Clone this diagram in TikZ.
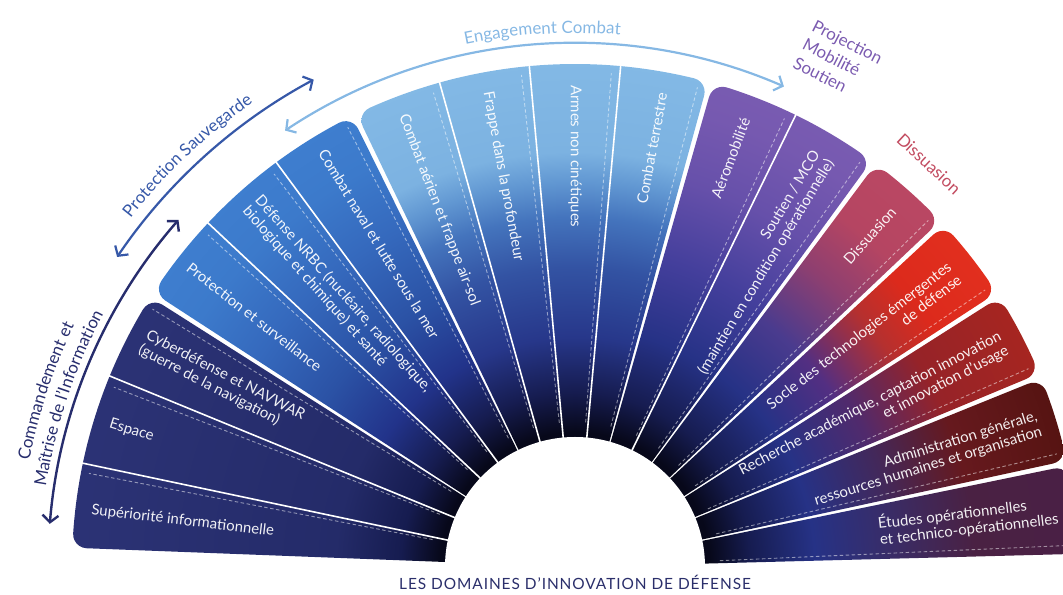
\documentclass[tikz,border=0pt]{standalone}
\usepackage{fontspec}
\setmainfont{Lato}
\usetikzlibrary{calc,arrows.meta,decorations.text}

\definecolor{cBlk}{HTML}{07081A}
\definecolor{cNv1}{HTML}{161C50}
\definecolor{cNv2}{HTML}{263286}
\definecolor{cmdB}{HTML}{242B69}
\definecolor{cmdC}{HTML}{2C3376}
\definecolor{prB}{HTML}{22338A}
\definecolor{prC}{HTML}{2B52A5}
\definecolor{prD}{HTML}{3569BD}
\definecolor{prE}{HTML}{3C7ACB}
\definecolor{prF}{HTML}{3F7FD0}
\definecolor{enB}{HTML}{27378A}
\definecolor{enC}{HTML}{3353A3}
\definecolor{enD}{HTML}{4474BD}
\definecolor{enE}{HTML}{6197D2}
\definecolor{enF}{HTML}{7CB2E1}
\definecolor{enG}{HTML}{84BAE6}
\definecolor{pjC}{HTML}{443F9C}
\definecolor{pjD}{HTML}{6650AA}
\definecolor{pjE}{HTML}{7659B0}
\definecolor{pjF}{HTML}{7A5CB2}
\definecolor{dsC}{HTML}{4A3B8E}
\definecolor{dsD}{HTML}{8E3F70}
\definecolor{dsE}{HTML}{B54562}
\definecolor{dsF}{HTML}{BB4863}
\definecolor{soC}{HTML}{532F82}
\definecolor{soD}{HTML}{B5302F}
\definecolor{soE}{HTML}{DC2A1C}
\definecolor{soF}{HTML}{E3301F}
\definecolor{reC}{HTML}{512A6C}
\definecolor{reD}{HTML}{962328}
\definecolor{reE}{HTML}{A9261F}
\definecolor{adC}{HTML}{43285A}
\definecolor{adD}{HTML}{66191E}
\definecolor{adE}{HTML}{541310}
\definecolor{etC}{HTML}{3A2C66}
\definecolor{etD}{HTML}{4A2143}
\definecolor{etE}{HTML}{4A2046}
\definecolor{cmdTxt}{HTML}{272D6D}
\definecolor{protTxt}{HTML}{3658A8}
\definecolor{engTxt}{HTML}{86B8E4}
\definecolor{projTxt}{HTML}{7B5BB0}
\definecolor{dissTxt}{HTML}{C24B60}
\definecolor{titleTxt}{HTML}{2B2F6B}

\pgfdeclareradialshading{shCmd}{\pgfpoint{0bp}{0bp}}{color(0bp)=(cBlk); color(135bp)=(cBlk); color(175bp)=(cNv1); color(240bp)=(cmdB); color(520bp)=(cmdC)}
\pgfdeclareradialshading{shPro}{\pgfpoint{0bp}{0bp}}{color(0bp)=(cBlk); color(135bp)=(cBlk); color(175bp)=(cNv1); color(230bp)=(prB); color(300bp)=(prC); color(380bp)=(prD); color(450bp)=(prE); color(520bp)=(prF)}
\pgfdeclareradialshading{shEng}{\pgfpoint{0bp}{0bp}}{color(0bp)=(cBlk); color(135bp)=(cBlk); color(175bp)=(cNv1); color(230bp)=(enB); color(300bp)=(enC); color(350bp)=(enD); color(385bp)=(enE); color(415bp)=(enF); color(520bp)=(enG)}
\pgfdeclareradialshading{shPrj}{\pgfpoint{0bp}{0bp}}{color(0bp)=(cBlk); color(135bp)=(cBlk); color(175bp)=(cNv1); color(240bp)=(cNv2); color(320bp)=(pjC); color(400bp)=(pjD); color(470bp)=(pjE); color(520bp)=(pjF)}
\pgfdeclareradialshading{shDis}{\pgfpoint{0bp}{0bp}}{color(0bp)=(cBlk); color(135bp)=(cBlk); color(175bp)=(cNv1); color(240bp)=(cNv2); color(310bp)=(dsC); color(380bp)=(dsD); color(440bp)=(dsE); color(520bp)=(dsF)}
\pgfdeclareradialshading{shSoc}{\pgfpoint{0bp}{0bp}}{color(0bp)=(cBlk); color(135bp)=(cBlk); color(175bp)=(cNv1); color(240bp)=(cNv2); color(310bp)=(soC); color(380bp)=(soD); color(430bp)=(soE); color(520bp)=(soF)}
\pgfdeclareradialshading{shRec}{\pgfpoint{0bp}{0bp}}{color(0bp)=(cBlk); color(135bp)=(cBlk); color(175bp)=(cNv1); color(240bp)=(cNv2); color(320bp)=(reC); color(400bp)=(reD); color(520bp)=(reE)}
\pgfdeclareradialshading{shAdm}{\pgfpoint{0bp}{0bp}}{color(0bp)=(cBlk); color(135bp)=(cBlk); color(175bp)=(cNv1); color(240bp)=(cNv2); color(320bp)=(adC); color(400bp)=(adD); color(520bp)=(adE)}
\pgfdeclareradialshading{shEtu}{\pgfpoint{0bp}{0bp}}{color(0bp)=(cBlk); color(135bp)=(cBlk); color(175bp)=(cNv1); color(240bp)=(cNv2); color(320bp)=(etC); color(400bp)=(etD); color(520bp)=(etE)}

\newcommand\segfont{\fontsize{15}{16.5}\selectfont}
\newcommand\grpfont{\fontsize{17}{21}\selectfont}
\newcommand\ttlfont{\addfontfeatures{LetterSpace=6}\fontsize{15.5}{18}\selectfont}

% group clip: #1 lower angle, #2 upper angle
\newcommand\grpclip[2]{\clip ($(C)+(#1:60)$) -- ($(C)+(#1:488.8)$)
  arc[start angle=#1-90, end angle=#1+1.64, radius=14]
  arc[start angle=#1+1.64, end angle=#2-1.64, radius=503]
  arc[start angle=#2-1.64, end angle=#2+90, radius=14]
  -- ($(C)+(#2:60)$) -- cycle;}
\newcommand\grpfill[4]{\begin{scope}\grpclip{#1}{#2}
  \node[inner sep=0pt, outer sep=0pt] (#4) at (C) {\pgfuseshading{#3}};
  \end{scope}}

\begin{document}
\begin{tikzpicture}[x=1bp,y=1bp,
  seg/.style={text=white, text opacity=.93, font=\segfont, inner sep=0pt, align=left},
  sepline/.style={white, line width=1.6bp},
  dashline/.style={white, opacity=.5, line width=.9bp, dash pattern=on 3.5bp off 2.5bp},
  arrtip/.style={{Straight Barb[length=7bp,width=16bp]}-{Straight Barb[length=7bp,width=16bp]}},
  grplbl/.style={font=\grpfont, inner sep=0pt}]
\useasboundingbox (0,0) rectangle (1063,595);
\coordinate (C) at (575,28);

% groups
\grpfill{147.56}{177.8}{shCmd}{gCmd}
\grpfill{116.33}{146.96}{shPro}{gPro}
\grpfill{74.68}{115.73}{shEng}{gEng}
\grpfill{53.86}{74.08}{shPrj}{gPrj}
\grpfill{43.45}{53.26}{shDis}{gDis}
\grpfill{33.04}{42.85}{shSoc}{gSoc}
\grpfill{22.62}{32.44}{shRec}{gRec}
\grpfill{12.21}{22.02}{shAdm}{gAdm}
\grpfill{1.5}{11.61}{shEtu}{gEtu}

% separators inside groups
\foreach \a in {168.09,157.68,136.85,126.44,105.62,95.21,84.79,63.97}
  \draw[sepline] ($(C)+(\a:100)$) -- ($(C)+(\a:510)$);
% dashed lines
\foreach \a in {169.1,158.7,148.6,137.85,127.44,117.33,106.62,96.21,85.79,75.68,64.97,54.86,44.45,34.04,23.62,13.21,2.5}
  \draw[dashline] ($(C)+(\a:145)$) -- ($(C)+(\a:495)$);

% inner white half disc
\fill[white] (C) circle (130);

% segment labels
\node[seg, anchor=west, rotate=-6.71] (t0) at ($(C)+(173.29:487)$) {Supériorité informationnelle};
\node[seg, anchor=west, rotate=-17.12] (t1) at ($(C)+(162.88:487)$) {Espace};
\node[seg, anchor=west, rotate=-27.53] (t2) at ($(C)+(152.47:487)$) {Cyberdéfense et NAVWAR\\(guerre de la navigation)};
\node[seg, anchor=west, rotate=-37.94] (t3) at ($(C)+(142.06:490)$) {Protection et surveillance};
\node[seg, anchor=west, rotate=-48.35] (t4) at ($(C)+(131.65:487)$) {Défense NRBC (nucléaire, radiologique,\\biologique et chimique) et santé};
\node[seg, anchor=west, rotate=-58.76] (t5) at ($(C)+(121.24:487)$) {Combat naval et lutte sous la mer};
\node[seg, anchor=west, rotate=-69.18] (t6) at ($(C)+(110.82:484)$) {Combat aérien et frappe air-sol};
\node[seg, anchor=west, rotate=-79.59] (t7) at ($(C)+(100.41:483)$) {Frappe dans la profondeur};
\node[seg, anchor=west, rotate=-90] (t8) at ($(C)+(90:482)$) {Armes non cinétiques};
\node[seg, anchor=east, rotate=79.59] (t9) at ($(C)+(79.59:482)$) {Combat terrestre};
\node[seg, anchor=east, rotate=69.18] (t10) at ($(C)+(69.18:480)$) {Aéromobilité};
\node[seg, anchor=east, align=right, rotate=58.76] (t11) at ($(C)+(58.76:480)$) {Soutien / MCO\\(maintien en condition opérationnelle)};
\node[seg, anchor=east, rotate=48.35] (t12) at ($(C)+(48.35:479)$) {Dissuasion};
\node[seg, anchor=east, align=right, rotate=37.94] (t13) at ($(C)+(37.94:481)$) {Socle des technologies émergentes\\de défense};
\node[seg, anchor=east, align=right, rotate=27.53] (t14) at ($(C)+(27.53:484)$) {Recherche académique, captation innovation\\et innovation d’usage};
\node[seg, anchor=east, align=right, rotate=17.12] (t15) at ($(C)+(17.12:486)$) {Administration générale,\\ressources humaines et organisation};
\node[seg, anchor=east, align=left, rotate=6.71] (t16) at ($(C)+(6.71:486)$) {Études opérationnelles\\et technico-opérationnelles};

% arrows
\coordinate (cmdS) at ($(C)+(175.3:527)$);
\draw[arrtip, draw=cmdTxt, line width=2.4bp] (cmdS) arc[start angle=175.3, end angle=138.8, radius=527];
\coordinate (proS) at ($(C)+(145.9:553)$);
\draw[arrtip, draw=protTxt, line width=2.2bp] (proS) arc[start angle=145.9, end angle=118.2, radius=553];
\coordinate (engS) at ($(C)+(123.6:524)$);
\draw[arrtip, draw=engTxt, line width=2.2bp] (engS) arc[start angle=123.6, end angle=66.5, radius=524];

% curved group labels
\coordinate (lc1) at ($(C)+(191.6:556)$);
\path[decorate, decoration={text along path, text align=center, text={|\grpfont\color{cmdTxt}|Commandement et}}] (lc1) arc[start angle=191.6, end angle=131.6, radius=556];
\coordinate (lc2) at ($(C)+(191.6:535)$);
\path[decorate, decoration={text along path, text align=center, text={|\grpfont\color{cmdTxt}|Maîtrise de l’Information}}] (lc2) arc[start angle=191.6, end angle=131.6, radius=535];
\coordinate (lp) at ($(C)+(163.3:565)$);
\path[decorate, decoration={text along path, text align=center, text={|\grpfont\color{protTxt}|Protection Sauvegarde}}] (lp) arc[start angle=163.3, end angle=103.3, radius=565];
\coordinate (le) at ($(C)+(128.5:534)$);
\path[decorate, decoration={text along path, text align=center, text={|\grpfont\color{engTxt}|Engagement Combat}}] (le) arc[start angle=128.5, end angle=58.5, radius=534];

\node[grplbl, text=projTxt, align=left, rotate=-27] (projlbl) at (838,534.5) {Projection\\Mobilité\\Soutien};
\node[grplbl, text=dissTxt, rotate=-43] (disslbl) at (929,431) {Dissuasion};

\node[font=\ttlfont, text=titleTxt, anchor=base, inner sep=0pt] (title) at (575,5) {LES DOMAINES D’INNOVATION DE DÉFENSE};
\end{tikzpicture}
\end{document}
